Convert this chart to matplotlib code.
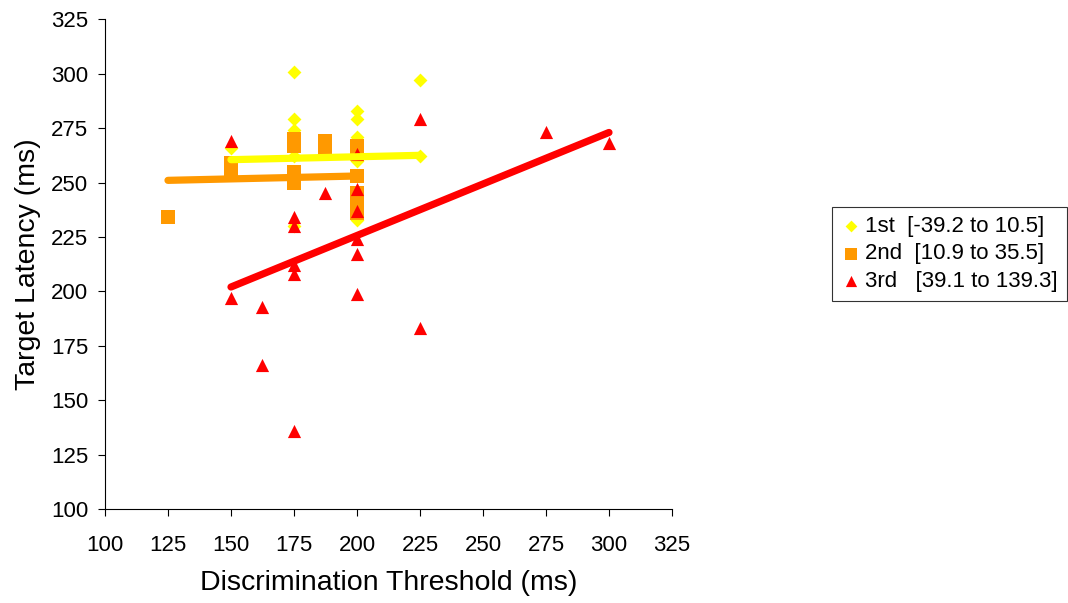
import matplotlib
matplotlib.use('Agg')
import matplotlib.pyplot as plt

plt.rcParams['font.family'] = ['Liberation Sans', 'DejaVu Sans']

# 1st tertile
first_x = [175, 225, 200, 200, 175, 175, 200, 150, 175, 200, 225, 200, 175, 200]
first_y = [301, 297, 283, 279, 279, 274, 271, 266, 262, 262, 262, 233, 230, 260]
# 2nd tertile
second_x = [125, 150, 150, 175, 175, 175, 175, 187.5, 187.5, 200, 200, 200, 200, 200, 200]
second_y = [234, 259, 255, 270, 267, 255, 250, 269, 265, 267, 263, 253, 245, 240, 236]
# 3rd tertile
third_x = [150, 150, 162.5, 162.5, 175, 175, 175, 175, 175, 187.5, 200, 200, 200, 200, 200,
           200, 225, 225, 275, 300]
third_y = [269, 197, 193, 166, 136, 234, 230, 212, 208, 245, 263, 247, 237, 224, 217,
           199, 279, 183, 273, 268]

# linear trend end points
first_fit_x = [150, 225]
first_fit_y = [260.5, 262.5]
second_fit_x = [125, 200]
second_fit_y = [251, 253]
third_fit_x = [150, 300]
third_fit_y = [202, 273]

labels = ['1st  [-39.2 to 10.5]', '2nd  [10.9 to 35.5]', '3rd   [39.1 to 139.3]']

fig = plt.figure(figsize=(10.68, 6.03), dpi=100)
ax = fig.add_axes([0.0983, 0.1559, 0.5309, 0.8121])

h1 = ax.scatter(first_x, first_y, marker='D', s=50, color='#FFFF00', linewidths=0, zorder=3)
h2 = ax.scatter(second_x, second_y, marker='s', s=88, color='#FF9900', linewidths=0, zorder=3)
h3 = ax.scatter(third_x, third_y, marker='^', s=90, color='#FF0000', linewidths=0, zorder=3)

ax.plot(first_fit_x, first_fit_y, color='#FFFF00', lw=5.2, solid_capstyle='round', zorder=4)
ax.plot(second_fit_x, second_fit_y, color='#FF9900', lw=5.2, solid_capstyle='round', zorder=4)
ax.plot(third_fit_x, third_fit_y, color='#FF0000', lw=5.2, solid_capstyle='round', zorder=4)

ax.set_xlim(100, 325)
ax.set_ylim(100, 325)
ax.set_xticks(range(100, 326, 25))
ax.set_yticks(range(100, 326, 25))
ax.tick_params(labelsize=16, direction='out', length=5, width=0.8)
ax.tick_params(axis='x', pad=14)
ax.tick_params(axis='y', pad=7)
ax.spines['top'].set_visible(False)
ax.spines['right'].set_visible(False)
ax.set_xlabel('Discrimination Threshold (ms)', fontsize=20.5, labelpad=10)
ax.set_ylabel('Target Latency (ms)', fontsize=20.5, labelpad=7)

leg = fig.legend([h1, h2, h3], labels, loc='upper left', bbox_to_anchor=(0.779, 0.657),
                 borderaxespad=0, fontsize=16, frameon=True, fancybox=False,
                 edgecolor='black', handletextpad=0.2, handlelength=0.9, borderpad=0.4,
                 labelspacing=0.3, markerscale=0.85)
leg.get_frame().set_linewidth(0.8)

fig.savefig('out.png', dpi=100)
